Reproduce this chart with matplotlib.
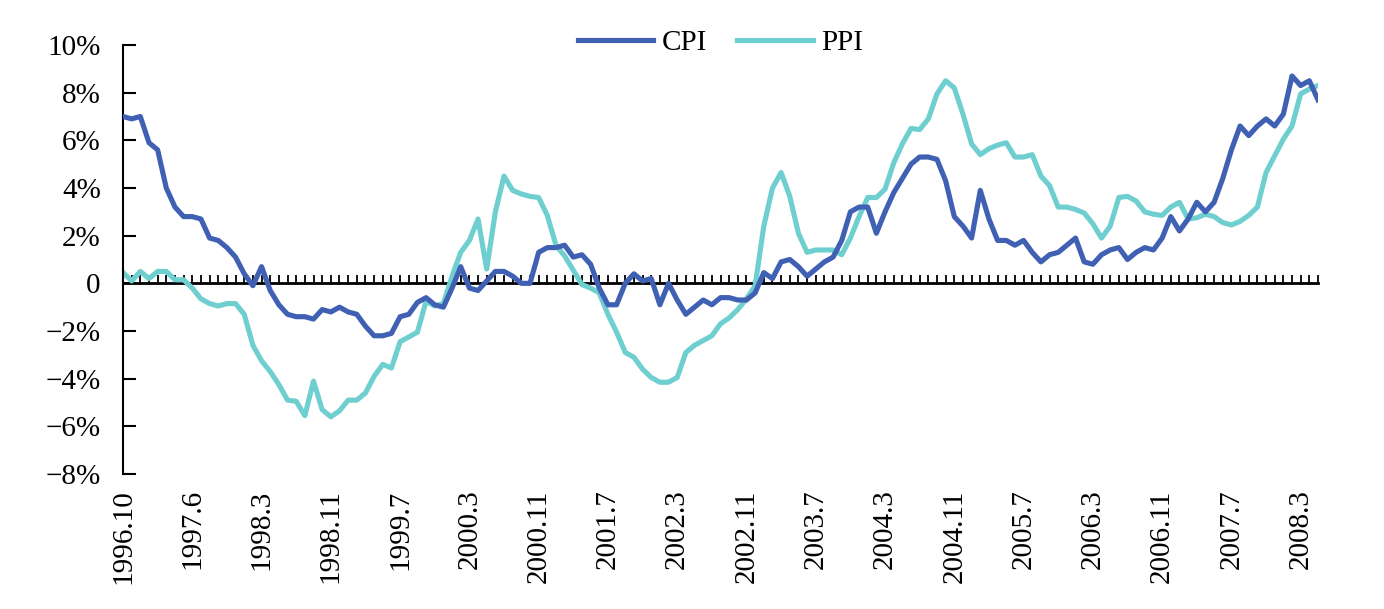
import matplotlib
matplotlib.use('Agg')
import matplotlib.pyplot as plt
from matplotlib.ticker import FuncFormatter

plt.rcParams['font.family'] = ['Liberation Serif', 'DejaVu Serif']

# tick labels, one every 8 points (1998.1 is absent from the series)
labels = ['1996.10', '1997.6', '1998.3', '1998.11', '1999.7', '2000.3', '2000.11',
          '2001.7', '2002.3', '2002.11', '2003.7', '2004.3', '2004.11', '2005.7',
          '2006.3', '2006.11', '2007.7', '2008.3']
label_step = 8

# year-on-year, %
cpi = [7.0, 6.9, 7.0, 5.9, 5.6, 4.0, 3.2, 2.8, 2.8, 2.7,
       1.9, 1.8, 1.5, 1.1, 0.4, -0.1, 0.7, -0.3, -0.9, -1.3,
       -1.4, -1.4, -1.5, -1.1, -1.2, -1.0, -1.2, -1.3, -1.8, -2.2,
       -2.2, -2.1, -1.4, -1.3, -0.8, -0.6, -0.9, -1.0, -0.2, 0.7,
       -0.2, -0.3, 0.1, 0.5, 0.5, 0.3, 0.0, 0.0, 1.3, 1.5,
       1.5, 1.6, 1.1, 1.2, 0.8, -0.2, -0.9, -0.9, 0.0, 0.4,
       0.1, 0.2, -0.9, 0.0, -0.7, -1.3, -1.0, -0.7, -0.9, -0.6,
       -0.6, -0.7, -0.7, -0.4, 0.45, 0.2, 0.9, 1.0, 0.7, 0.3,
       0.6, 0.9, 1.1, 1.8, 3.0, 3.2, 3.2, 2.1, 3.0, 3.8,
       4.4, 5.0, 5.3, 5.3, 5.2, 4.3, 2.8, 2.4, 1.9, 3.9,
       2.7, 1.8, 1.8, 1.6, 1.8, 1.3, 0.9, 1.2, 1.3, 1.6,
       1.9, 0.9, 0.8, 1.2, 1.4, 1.5, 1.0, 1.3, 1.5, 1.4,
       1.9, 2.8, 2.2, 2.7, 3.4, 3.0, 3.4, 4.4, 5.6, 6.6,
       6.2, 6.6, 6.9, 6.6, 7.1, 8.7, 8.3, 8.5, 7.7]

ppi = [0.45, 0.1, 0.5, 0.2, 0.5, 0.5, 0.15, 0.15, -0.2, -0.65,
       -0.85, -0.95, -0.85, -0.85, -1.3, -2.6, -3.25, -3.7, -4.25, -4.9,
       -4.95, -5.55, -4.1, -5.3, -5.6, -5.35, -4.9, -4.9, -4.6, -3.9,
       -3.4, -3.55, -2.45, -2.25, -2.05, -0.75, -0.95, -0.85, 0.3, 1.3,
       1.8, 2.7, 0.6, 3.0, 4.5, 3.9, 3.75, 3.65, 3.6, 2.85,
       1.6, 1.15, 0.55, -0.05, -0.2, -0.4, -1.3, -2.05, -2.9, -3.1,
       -3.6, -3.95, -4.15, -4.15, -3.95, -2.9, -2.6, -2.4, -2.2, -1.7,
       -1.45, -1.1, -0.65, -0.1, 2.4, 4.0, 4.65, 3.65, 2.1, 1.3,
       1.4, 1.4, 1.4, 1.2, 1.9, 2.8, 3.6, 3.6, 3.95, 5.05,
       5.85, 6.5, 6.45, 6.9, 7.95, 8.5, 8.2, 7.1, 5.85, 5.4,
       5.65, 5.8, 5.9, 5.3, 5.3, 5.4, 4.5, 4.1, 3.2, 3.2,
       3.1, 2.95, 2.5, 1.9, 2.4, 3.6, 3.65, 3.45, 3.0, 2.9,
       2.85, 3.2, 3.4, 2.7, 2.75, 2.9, 2.8, 2.55, 2.45, 2.6,
       2.85, 3.2, 4.65, 5.35, 6.05, 6.6, 7.95, 8.15, 8.3]

y_min, y_max = -8, 10


def pct(v, pos):
    if v == 0:
        return '0'
    return ('%d%%' % v).replace('-', '\u2212')


fig = plt.figure(figsize=(13.84, 6.09), dpi=100)
ax = fig.add_axes([123 / 1384, 1 - 474 / 609, (1318 - 123) / 1384, (474 - 45) / 609])

x = list(range(len(cpi)))
ax.plot(x, cpi, color='#4060B4', lw=3.7, label='CPI', zorder=3)
ax.plot(x, ppi, color='#6FCFD0', lw=3.7, label='PPI', zorder=2)

ax.set_xlim(0, len(cpi) - 1)
ax.set_ylim(y_min, y_max)

# y axis
ax.set_yticks(range(y_min, y_max + 1, 2))
ax.yaxis.set_major_formatter(FuncFormatter(pct))
ax.tick_params(axis='y', direction='in', length=9.5, width=1.5, labelsize=21, pad=16)
for s in ['top', 'right', 'bottom']:
    ax.spines[s].set_visible(False)
ax.spines['left'].set_linewidth(1.5)

# category labels at the bottom
ax.set_xticks(range(0, len(cpi), label_step))
ax.set_xticklabels(labels, rotation=90)
ax.tick_params(axis='x', length=0, labelsize=21, pad=11)

# zero line with a tick on every category
zero = ax.secondary_xaxis((0 - y_min) / (y_max - y_min))
zero.set_xticks(x)
zero.tick_params(axis='x', direction='in', length=6, width=1.3, labelbottom=False)
zero.spines['bottom'].set_linewidth(2)

ax.legend(loc='center', bbox_to_anchor=(0.5, 1.005), ncol=2, frameon=False,
          fontsize=21, handlelength=2.6, handletextpad=0.3, columnspacing=1.0)

fig.savefig('out.png', dpi=100)
